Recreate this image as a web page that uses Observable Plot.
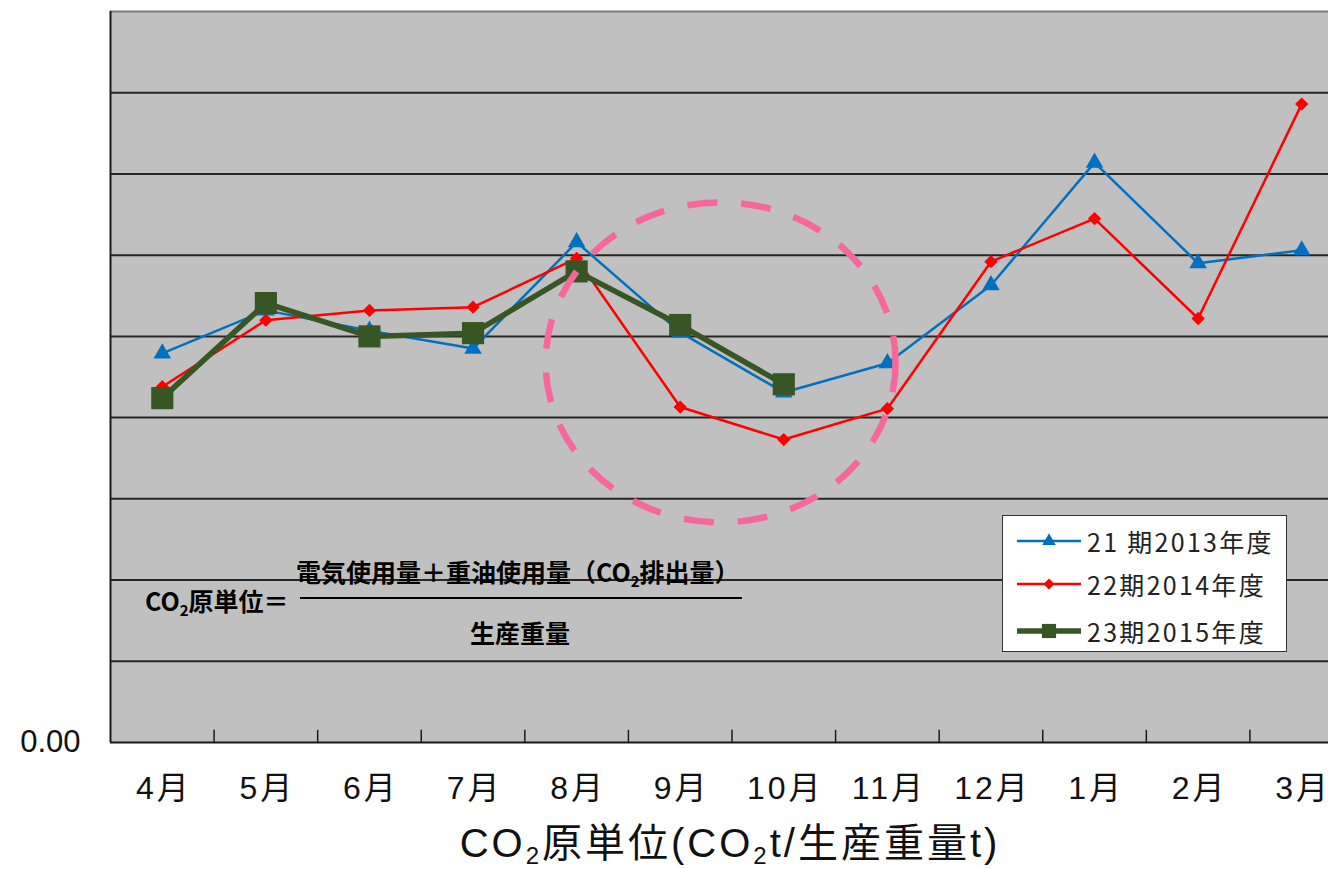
<!DOCTYPE html>
<html>
<head>
<meta charset="utf-8">
<script src="https://cdn.jsdelivr.net/npm/d3@7"></script>
<script src="https://cdn.jsdelivr.net/npm/@observablehq/plot@0.6"></script>
<style>
  body { margin: 0; background: #fff; }
  #wrap { position: relative; width: 1328px; height: 869px; overflow: hidden; font-family: "Noto Sans CJK JP", "Noto Sans", sans-serif; }
  #chart svg { display: block; }
  .formula { position: absolute; font-weight: bold; font-size: 25px; line-height: 1; color: #000; white-space: nowrap; }
  .formula sub, .title sub { font-size: 0.6em; vertical-align: -0.3em; line-height: 0; }
  #legend { position: absolute; left: 1002px; top: 515px; width: 283px; height: 135px; border: 1.5px solid #333; background: #fff; }
  .lrow { position: absolute; left: 0; height: 30px; display: flex; align-items: center; }
  .lrow span { font-size: 25px; letter-spacing: 2.3px; color: #222; margin-left: 4px; white-space: nowrap; }
  .title { position: absolute; left: 0; width: 1460px; top: 823px; text-align: center; font-family: "Liberation Sans", "Noto Sans CJK JP", sans-serif; font-size: 40px; letter-spacing: 3px; color: #111; white-space: nowrap; line-height: 1; }
</style>
</head>
<body>
<div id="wrap">
  <div id="chart"></div>
</div>
<script>
// ---- data ----
const months = ["4月", "5月", "6月", "7月", "8月", "9月", "10月", "11月", "12月", "1月", "2月", "3月"];
const seriesNames = ["21 期2013年度", "22期2014年度", "23期2015年度"];
const s2013 = [4.79, 5.32, 5.07, 4.85, 6.16, 5.05, 4.31, 4.67, 5.63, 7.14, 5.90, 6.06];
const s2014 = [4.38, 5.20, 5.32, 5.36, 5.96, 4.13, 3.73, 4.11, 5.92, 6.45, 5.22, 7.86];
const s2015 = [4.24, 5.41, 5.00, 5.04, 5.80, 5.14, 4.41, null, null, null, null, null];
const yTicks = [0, 1, 2, 3, 4, 5, 6, 7, 8, 9];
const colors = ["#0070c0", "#ff0000", "#375623"];
const symbols = ["triangle", "diamond2", "square"];
// highlighted region (between 9月 and 10月)
const ring = [{ month: 5.39, value: 4.68 }];

// ---- build ----
const idx = months.map((m, i) => i);
const bounds = idx.slice(1).map(i => i - 0.5);
const rows = (arr) => arr.map((v, i) => ({ i, v })).filter(d => d.v != null);
const allSeries = [s2013, s2014, s2015];
const lineW = [2.5, 2.5, 5.5];
const dotR = [6.5, 6, 12.5];

const marks = [
  Plot.frame({ fill: "#c0c0c0", stroke: null }),
  Plot.ruleY(yTicks.filter(t => t > 0 && t < 9), { stroke: "#262626", strokeWidth: 2 }),
  Plot.ruleY([9], { stroke: "#7a7a7a", strokeWidth: 2 }),
  Plot.ruleY([0], { stroke: "#1a1a1a", strokeWidth: 2 }),
  Plot.ruleX([-0.5], { stroke: "#1a1a1a", strokeWidth: 2 }),
  Plot.ruleX(bounds, { y1: 0, y2: 0.15, stroke: "#1a1a1a", strokeWidth: 1.5 }),
  Plot.axisX(idx, { anchor: "bottom", tickSize: 0, tickPadding: 34, tickFormat: i => months[i], fontSize: 32, label: null, fill: "#111", fontFamily: "'Liberation Sans', 'Noto Sans CJK JP', sans-serif" }),
  Plot.axisY([0], { anchor: "left", tickSize: 0, tickPadding: 30, tickFormat: d3.format(".2f"), fontSize: 31, label: null, fontFamily: "'Liberation Sans', Arial, sans-serif", fill: "#111" })
];
allSeries.forEach((s, k) => {
  marks.push(Plot.line(rows(s), { x: "i", y: "v", stroke: colors[k], strokeWidth: lineW[k], strokeLinejoin: "miter" }));
  marks.push(Plot.dot(rows(s), { x: "i", y: "v", symbol: () => symbols[k], fill: colors[k], stroke: "none", r: dotR[k] }));
});
marks.push(Plot.dot(ring, { x: "month", y: "value", r: 167, fill: "none", stroke: "#f7689a", strokeWidth: 6.5, strokeDasharray: "30,24" }));

const plot = Plot.plot({
  width: 1328,
  height: 820,
  marginLeft: 110,
  marginRight: 0,
  marginTop: 11,
  marginBottom: 78,
  x: { domain: [-0.5, 11.5], range: [110, 1353], axis: null },
  y: { domain: [0, 9], axis: null },
  style: { fontFamily: "'Noto Sans CJK JP', sans-serif", background: "transparent", overflow: "hidden" },
  marks
});
document.getElementById("chart").appendChild(plot);

// month labels: wider letter spacing as in the original
d3.select(plot).selectAll("g[aria-label='x-axis tick label'] text")
  .attr("letter-spacing", 3).attr("dx", 1.5);

// turn the highlight circle into the slightly wider ellipse of the original
d3.select(plot).selectAll("circle").filter(function () { return +this.getAttribute("r") === 167; }).each(function () {
  const c = d3.select(this);
  const cx = c.attr("cx"), cy = c.attr("cy");
  d3.select(this.parentNode).append("ellipse").attr("cx", cx).attr("cy", cy).attr("rx", 175).attr("ry", 160);
  c.remove();
});

const wrap = document.getElementById("wrap");
function addDiv(cls, html, style) {
  const d = document.createElement("div");
  d.className = cls; d.innerHTML = html;
  Object.assign(d.style, style);
  wrap.appendChild(d);
  return d;
}
// formula annotation
addDiv("formula", "CO<sub>2</sub>原単位＝", { left: "145px", top: "588px" });
addDiv("formula", "電気使用量＋重油使用量（CO<sub>2</sub>排出量）", { left: "296px", top: "559px" });
addDiv("formula", "", { left: "300px", top: "597px", width: "442px", height: "2px", background: "#000" });
addDiv("formula", "生産重量", { left: "470px", top: "620px" });

// legend
const leg = addDiv("", "", {});
leg.id = "legend";
const rowTops = [10, 53, 100];
seriesNames.forEach((name, k) => {
  const r = document.createElement("div");
  r.className = "lrow";
  r.style.top = rowTops[k] + "px";
  const svg = d3.create("svg").attr("width", 80).attr("height", 30);
  svg.append("line").attr("x1", 14).attr("x2", 78).attr("y1", 15).attr("y2", 15)
    .attr("stroke", colors[k]).attr("stroke-width", lineW[k]);
  const sym = [d3.symbolTriangle, d3.symbolDiamond2, d3.symbolSquare][k];
  const sz = [5, 5, 8][k];
  svg.append("path").attr("d", d3.symbol(sym, sz * sz * Math.PI)()).attr("transform", "translate(46,15)").attr("fill", colors[k]);
  r.appendChild(svg.node());
  const t = document.createElement("span");
  t.textContent = name;
  r.appendChild(t);
  leg.appendChild(r);
});

// axis title below the svg
addDiv("title", "CO<sub>2</sub>原単位(CO<sub>2</sub>t/生産重量t)", {});
</script>
</body>
</html>
